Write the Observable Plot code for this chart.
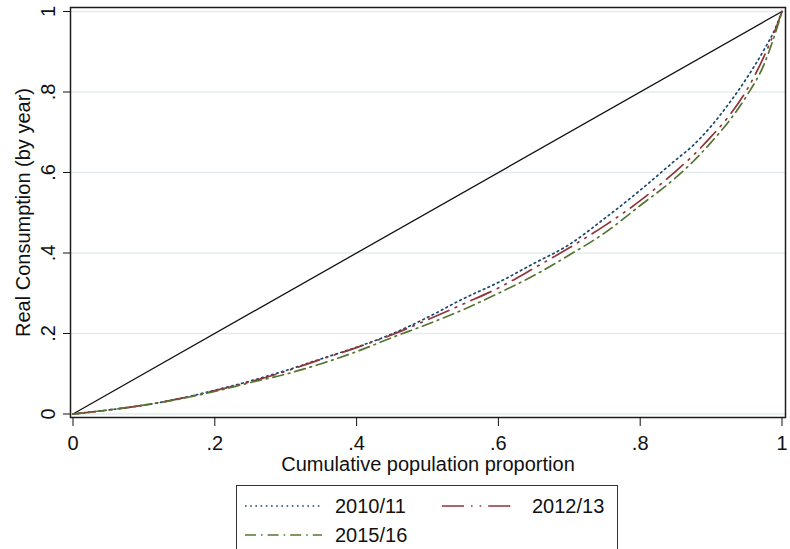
<!DOCTYPE html>
<html><head><meta charset="utf-8">
<script src="https://cdn.jsdelivr.net/npm/d3@7"></script>
<script src="https://cdn.jsdelivr.net/npm/@observablehq/plot@0.6"></script>
<style>
html,body{margin:0;padding:0;background:#fff;}
#wrap{position:relative;width:790px;height:549px;overflow:hidden;font-family:"Liberation Sans",Arial,sans-serif;}
#chart svg{display:block;}
#legend{position:absolute;left:236px;top:485px;width:382px;height:100px;border:1px solid #333;box-sizing:border-box;background:#fff;}
.ltxt{position:absolute;font-size:20px;line-height:20px;color:#111;white-space:nowrap;}
.lsmp{position:absolute;}
</style></head>
<body><div id="wrap"><div id="chart"></div><div id="legend"></div></div>
<script>
// Cumulative population proportion (x) and cumulative consumption share (y) per year
const popShare = [0, 0.05, 0.1, 0.15, 0.2, 0.25, 0.3, 0.35, 0.4, 0.45, 0.5, 0.55, 0.6, 0.65, 0.7, 0.75, 0.8, 0.85, 0.875, 0.9, 0.925, 0.95, 0.975, 0.99, 1];
const years = ["2010/11", "2012/13", "2015/16"];
const share2010 = [0, 0.010, 0.022, 0.038, 0.059, 0.082, 0.108, 0.137, 0.166, 0.199, 0.240, 0.286, 0.327, 0.374, 0.421, 0.486, 0.556, 0.631, 0.668, 0.715, 0.771, 0.834, 0.906, 0.956, 1];
const share2012 = [0, 0.010, 0.022, 0.038, 0.058, 0.080, 0.106, 0.136, 0.165, 0.197, 0.234, 0.273, 0.313, 0.362, 0.413, 0.468, 0.530, 0.603, 0.643, 0.689, 0.740, 0.804, 0.890, 0.952, 1];
const share2015 = [0, 0.010, 0.022, 0.037, 0.056, 0.078, 0.099, 0.125, 0.155, 0.190, 0.223, 0.259, 0.300, 0.344, 0.395, 0.450, 0.518, 0.587, 0.628, 0.675, 0.727, 0.790, 0.870, 0.943, 1];
const equality = [0, 1];
const ticks = [0, 0.2, 0.4, 0.6, 0.8, 1];
const tickLabels = ["0", ".2", ".4", ".6", ".8", "1"];
const xTitle = "Cumulative population proportion";
const yTitle = "Real Consumption (by year)";

const colors = ["#1a476f", "#90353b", "#55752f"];
const dashes = ["1.6 3.6", "22 7 1.6 7 1.6 7", "11 5 1.6 5"];
const series = [share2010, share2012, share2015];
const fmt = d => tickLabels[ticks.findIndex(t => Math.abs(t - d) < 1e-9)];
const font = '"Liberation Sans", Arial, sans-serif';

const curveMarks = series.map((s, k) => Plot.line(s, {
  x: (d, i) => popShare[i], y: d => d,
  stroke: colors[k], strokeWidth: 1.7, strokeDasharray: dashes[k], curve: "monotone-x"
}));

const chart = Plot.plot({
  width: 790, height: 480,
  marginLeft: 70, marginRight: 5, marginTop: 7, marginBottom: 63,
  insetLeft: 2.5, insetRight: 3.5, insetTop: 4, insetBottom: 3.5,
  x: {domain: [0, 1]},
  y: {domain: [0, 1]},
  style: {fontFamily: font, fontSize: "20px", background: "#fff", color: "#111", overflow: "visible"},
  marks: [
    Plot.ruleY(ticks, {stroke: "#e2ecee", strokeWidth: 1.3}),
    Plot.line(equality, {x: d => d, y: d => d, stroke: "#111", strokeWidth: 1.3}),
    ...curveMarks,
    Plot.frame({stroke: "#1c1c1c", strokeWidth: 1.5}),
    Plot.axisY({ticks, tickFormat: fmt, anchor: "left", tickSize: 7, tickPadding: 9, tickRotate: -90, label: null, fontSize: 20}),
    Plot.axisX({ticks, tickFormat: fmt, anchor: "bottom", tickSize: 9, tickPadding: 9, label: null, fontSize: 20}),
    Plot.text([xTitle], {text: d => d, frameAnchor: "bottom", dy: 47, lineAnchor: "middle", fontSize: 20}),
    Plot.text([yTitle], {text: d => d, frameAnchor: "left", dx: -47, rotate: -90, lineAnchor: "middle", textAnchor: "middle", fontSize: 20})
  ]
});
document.getElementById("chart").appendChild(chart);

// Legend (HTML below the SVG)
const legend = document.getElementById("legend");
const slots = [
  {sx: 8, sw: 77, tx: 98, row: 0},
  {sx: 205, sw: 73, tx: 295, row: 0},
  {sx: 8, sw: 77, tx: 98, row: 1}
];
const rowText = [10, 39], rowSample = [15, 44];
years.forEach((yr, k) => {
  const s = slots[k];
  const svgNS = "http://www.w3.org/2000/svg";
  const svg = document.createElementNS(svgNS, "svg");
  svg.setAttribute("class", "lsmp");
  svg.setAttribute("width", s.sw);
  svg.setAttribute("height", 10);
  svg.style.left = s.sx + "px";
  svg.style.top = rowSample[s.row] + "px";
  const ln = document.createElementNS(svgNS, "line");
  ln.setAttribute("x1", 0); ln.setAttribute("x2", s.sw);
  ln.setAttribute("y1", 5); ln.setAttribute("y2", 5);
  ln.setAttribute("stroke", colors[k]);
  ln.setAttribute("stroke-width", 1.7);
  ln.setAttribute("stroke-dasharray", dashes[k]);
  svg.appendChild(ln);
  legend.appendChild(svg);
  const t = document.createElement("div");
  t.className = "ltxt";
  t.textContent = yr;
  t.style.left = s.tx + "px";
  t.style.top = rowText[s.row] + "px";
  legend.appendChild(t);
});
</script>
</body></html>
